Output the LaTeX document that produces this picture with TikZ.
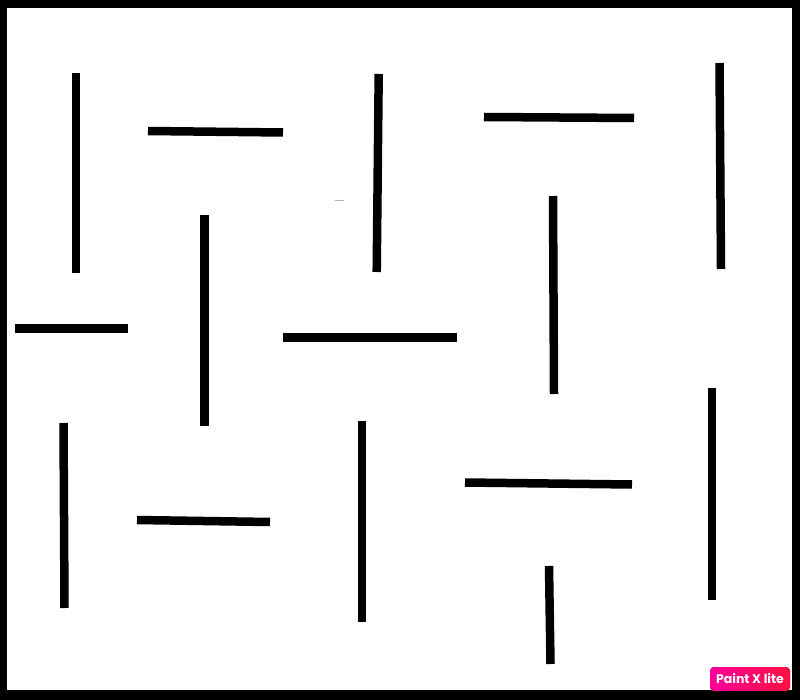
\documentclass[tikz,border=0pt]{standalone}
\usepackage{fontspec}
\newfontfamily\badgefont{Poppins}
\definecolor{badgepink}{HTML}{FF0099}
\definecolor{badgered}{HTML}{FF1040}

\begin{document}
\begin{tikzpicture}[x=1pt,y=-1pt]
		\useasboundingbox (0,0) rectangle (800,700);
		\fill[color=black] (0,0) rectangle (800,700);
		\fill[color=white] (6.5,8.5) rectangle (792,690);
		
		% sticks
		\foreach \xa/\ya/\xb/\yb in {76/73/76/273, 148/131/283/132.5, 378.7/74/376.7/272,
			484/117/634/118, 719.5/63/721/269, 15/328.5/128/328.5, 204.5/215/204.5/426,
			283/337.5/457/337.5, 553/196/554/394, 63.5/423/64.5/608, 137/520/270/522,
			362/421/362/622, 465/482.5/632/484.5, 712/388/712/600, 549/566/550.5/664} {
			\draw[line width=8.5pt] (\xa,\ya) -- (\xb,\yb);
		}
		\draw[color=black!30, line width=0.8pt] (335,200) -- (344,200);
		
		\fill[left color=badgepink, right color=badgered, rounded corners=4pt] (710,667) rectangle (790,691) node[color=white,pos=.5] {\badgefont\bfseries\fontsize{12.5}{14}\selectfont Paint X lite};
\end{tikzpicture}
\end{document}
